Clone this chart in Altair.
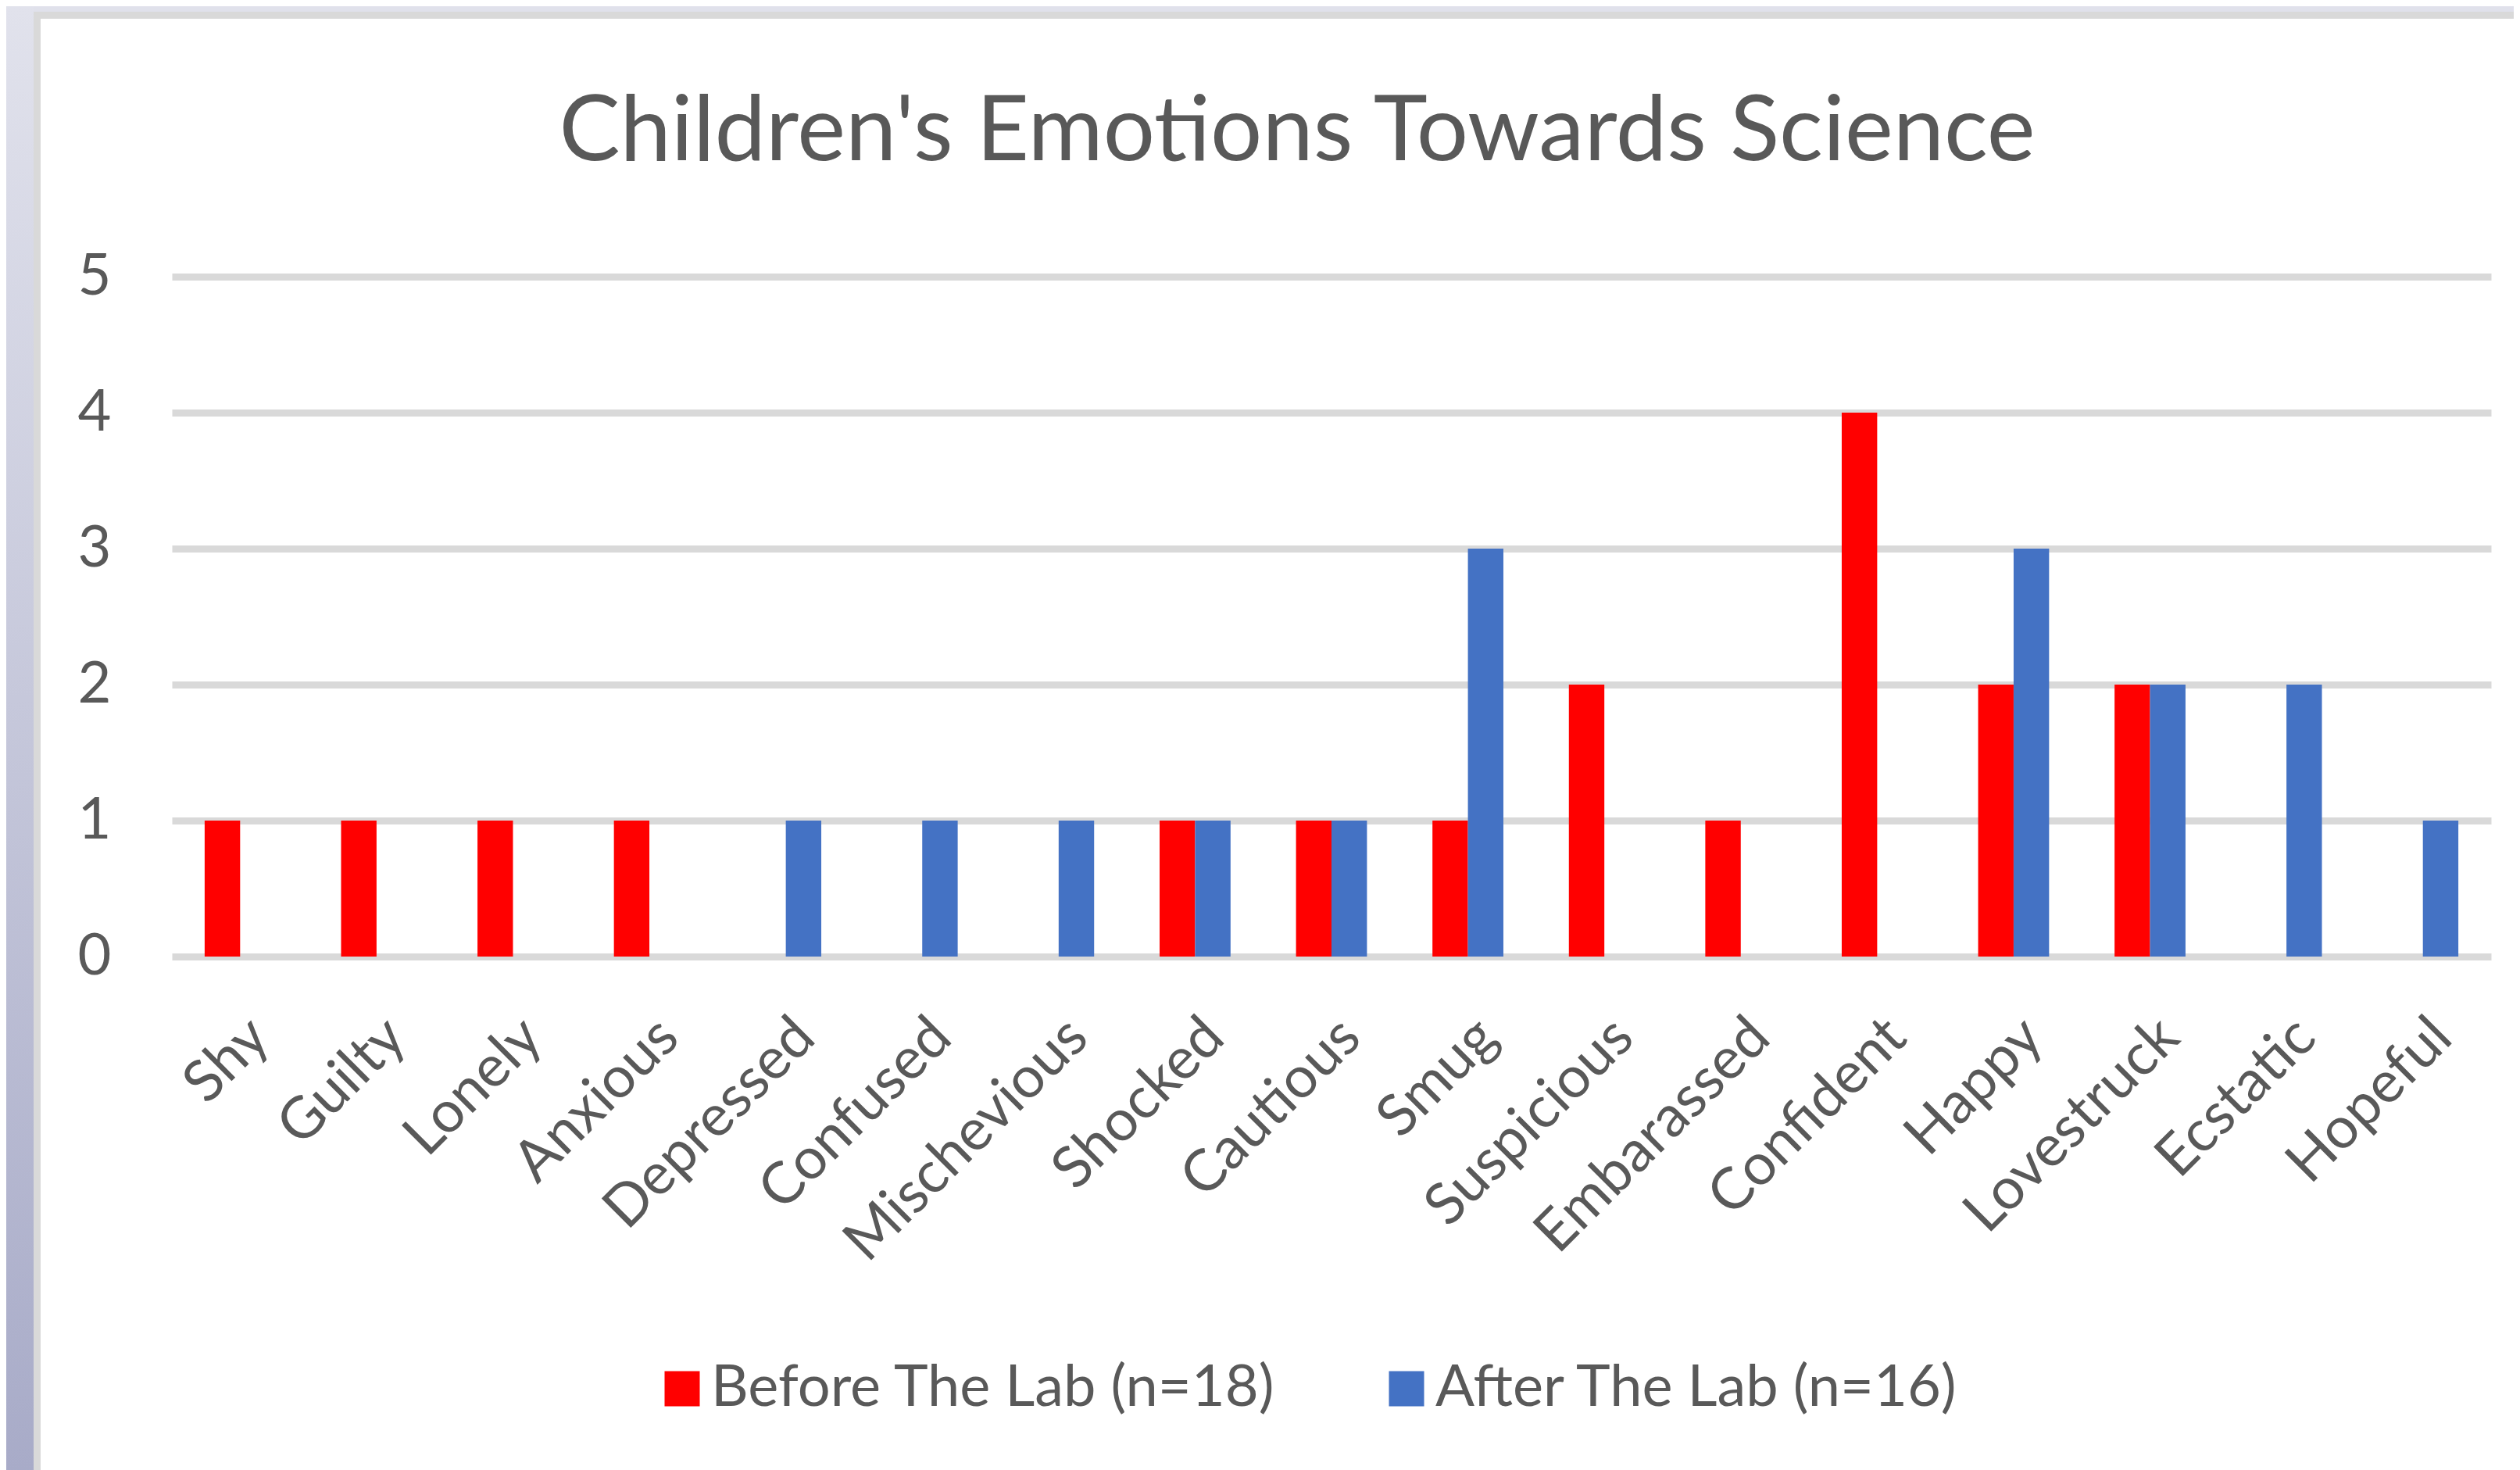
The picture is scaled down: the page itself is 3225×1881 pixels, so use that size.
import altair as alt
import pandas as pd

emotions = ["Shy", "Guilty", "Lonely", "Anxious", "Depressed", "Confused",
            "Mischevious", "Shocked", "Cautious", "Smug", "Suspicious",
            "Embarassed", "Confident", "Happy", "Lovestruck", "Ecstatic", "Hopeful"]
before = [1, 1, 1, 1, 0, 0, 0, 1, 1, 1, 2, 1, 4, 2, 2, 0, 0]
after = [0, 0, 0, 0, 1, 1, 1, 1, 1, 3, 0, 0, 0, 3, 2, 2, 1]
series_names = ["Before The Lab (n=18)", "After  The Lab (n=16)"]
series_colors = ["#FF0000", "#4472C4"]
y_ticks = [0, 1, 2, 3, 4, 5]
title_text = "Children's  Emotions  Towards Science"

rows = []
for e, b, a in zip(emotions, before, after):
    rows.append({"emotion": e, "series": series_names[0], "value": b})
    rows.append({"emotion": e, "series": series_names[1], "value": a})
df = pd.DataFrame(rows)

FONT = "Lato"
TXT = "#595959"
W, H = 2968, 870

bars = alt.Chart(df).mark_bar().encode(
    x=alt.X("emotion:N", sort=emotions, title=None,
            scale=alt.Scale(paddingInner=0.48, paddingOuter=0.24),
            axis=alt.Axis(labelAngle=-45, labelAlign="right", labelBaseline="top",
                          labelFontSize=74, labelColor=TXT, labelFont=FONT,
                          labelPadding=66, labelLimit=0, ticks=False, domain=False,
                          grid=False)),
    xOffset=alt.XOffset("series:N", sort=series_names),
    y=alt.Y("value:Q", title=None,
            scale=alt.Scale(domain=[0, 5], nice=False),
            axis=alt.Axis(values=y_ticks, labelFontSize=74, labelColor=TXT,
                          labelFont=FONT, labelPadding=78, ticks=False,
                          domain=False, gridColor="#d9d9d9", gridWidth=9)),
    color=alt.Color("series:N", sort=series_names,
                    scale=alt.Scale(domain=series_names, range=series_colors),
                    legend=alt.Legend(title=None, orient="none", direction="horizontal",
                                      legendX=616, legendY=1386, columns=2,
                                      symbolType="square", symbolSize=2025,
                                      symbolStrokeWidth=0, symbolOpacity=1,
                                      labelFontSize=74, labelColor=TXT, labelFont=FONT,
                                      labelOffset=0, labelLimit=0,
                                      columnPadding=130, padding=0)),
)

one = pd.DataFrame({"k": [0]})
def frame_rect(x, x2, y, y2, color):
    return alt.Chart(one).mark_rect(color=color).encode(
        x=alt.value(x), x2=alt.value(x2), y=alt.value(y), y2=alt.value(y2))

strip_grad = alt.Gradient(gradient="linear", x1=0, y1=0, x2=0, y2=1,
                          stops=[alt.GradientStop(color="#e1e2ec", offset=0),
                                 alt.GradientStop(color="#a8abc8", offset=1)])
top_strip = frame_rect(-212, 3010, -346, -339, "#e0e1eb")
top_border = frame_rect(-177, 3010, -339, -330, "#d9d9d9")
left_strip = alt.Chart(one).mark_rect(color=strip_grad).encode(
    x=alt.value(-212), x2=alt.value(-177), y=alt.value(-346), y2=alt.value(1530))
left_border = frame_rect(-177, -168, -339, 1530, "#d9d9d9")

title = alt.Chart(one).mark_text(font=FONT, fontSize=117, color=TXT,
                                 align="center", baseline="alphabetic").encode(
    x=alt.value(W / 2 - 44), y=alt.value(-149), text=alt.value(title_text))

chart = alt.layer(top_strip, top_border, left_strip, left_border, bars, title).properties(
    width=W, height=H,
    padding={"left": 212, "top": 346, "right": 29, "bottom": 657},
    autosize=alt.AutoSizeParams(type="none"),
    background="white",
).configure_view(stroke=None)

chart.save("out.html", embed_options={"renderer": "svg", "actions": False})
